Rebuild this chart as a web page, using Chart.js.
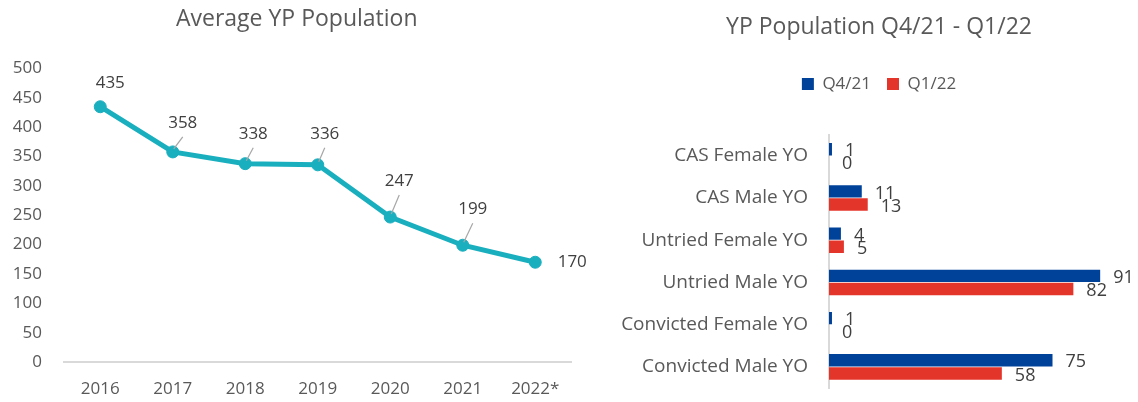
<!DOCTYPE html>
<html>
<head>
<meta charset="utf-8">
<script src="https://cdn.jsdelivr.net/npm/chart.js@4/dist/chart.umd.min.js"></script>
<style>
  html, body { margin: 0; padding: 0; background: #fff; }
  body { width: 1138px; height: 402px; position: relative; overflow: hidden; }
  .box { position: absolute; top: 0; height: 402px; }
  #left { left: 0; width: 594px; }
  #right { left: 600px; width: 538px; }
</style>
</head>
<body>
<div class="box" id="left"><canvas id="lineChart"></canvas></div>
<div class="box" id="right"><canvas id="barChart"></canvas></div>

<script>
// datos
const years = ['2016', '2017', '2018', '2019', '2020', '2021', '2022*'];
const avgPopulation = [435, 358, 338, 336, 247, 199, 170];

const groups = ['CAS Female YO', 'CAS Male YO', 'Untried Female YO', 'Untried Male YO', 'Convicted Female YO', 'Convicted Male YO'];
const q4_21 = [1, 11, 4, 91, 1, 75];
const q1_22 = [0, 13, 5, 82, 0, 58];

const FONT = "'Open Sans', sans-serif";
const GREY = '#595959';
const TEAL = '#1AAFBF';
const BLUE = '#00429A';
const RED = '#E4352B';

Chart.defaults.font.family = FONT;
Chart.defaults.color = GREY;
Chart.defaults.animation = false;

// posiciones de las etiquetas del grafico de lineas (respecto al punto)
const lineLabelOffsets = [[10, -24], [10, -29], [8, -30], [7, -31], [9, -36], [10, -36], [37, 0]];

const lineLabels = {
  id: 'lineLabels',
  afterDatasetsDraw(chart) {
    const ctx = chart.ctx;
    const meta = chart.getDatasetMeta(0);
    ctx.save();
    ctx.font = '17px ' + FONT;
    ctx.fillStyle = '#404040';
    ctx.textAlign = 'center';
    ctx.textBaseline = 'middle';
    meta.data.forEach((pt, i) => {
      const off = lineLabelOffsets[i];
      const lx = pt.x + off[0], ly = pt.y + off[1];
      if (off[1] <= -28) {
        ctx.strokeStyle = '#A6A6A6';
        ctx.lineWidth = 1.2;
        ctx.beginPath();
        ctx.moveTo(pt.x + 1, pt.y - 3);
        ctx.lineTo(lx, ly + 14);
        ctx.stroke();
      }
      ctx.fillText(chart.data.datasets[0].data[i], lx, ly);
    });
    ctx.restore();
  }
};

// mover titulo (y leyenda) un poco a la derecha
function shiftTop(px) {
  return {
    id: 'shiftTop',
    afterLayout(chart) {
      if (chart.titleBlock) chart.titleBlock.left += px;
      if (chart.legend && chart.legend.options.display) chart.legend.left += px;
    }
  };
}

const barLabels = {
  id: 'barLabels',
  afterDatasetsDraw(chart) {
    const ctx = chart.ctx;
    ctx.save();
    ctx.font = '18px ' + FONT;
    ctx.fillStyle = '#404040';
    ctx.textAlign = 'left';
    ctx.textBaseline = 'middle';
    chart.data.datasets.forEach((ds, d) => {
      chart.getDatasetMeta(d).data.forEach((bar, i) => {
        ctx.fillText(ds.data[i], bar.x + 13, bar.y + 2);
      });
    });
    ctx.restore();
  }
};

// espacio extra debajo de la leyenda
const legendGap = {
  id: 'legendGap',
  beforeInit(chart) {
    const fit = chart.legend.fit;
    chart.legend.fit = function () {
      fit.call(this);
      this.height += 32;
    };
  }
};

new Chart(document.getElementById('lineChart'), {
  type: 'line',
  data: {
    labels: years,
    datasets: [{
      data: avgPopulation,
      borderColor: TEAL,
      backgroundColor: TEAL,
      borderWidth: 5,
      pointRadius: 6,
      pointBorderWidth: 1,
      pointHoverRadius: 6,
      tension: 0
    }]
  },
  options: {
    responsive: true,
    maintainAspectRatio: false,
    layout: { padding: { left: 0, right: 22.5, top: 0, bottom: 0 } },
    plugins: {
      legend: { display: false },
      tooltip: { enabled: false },
      title: {
        display: true,
        text: 'Average YP Population',
        color: GREY,
        font: { size: 23, weight: 'normal' },
        padding: { top: 6, bottom: 35 }
      }
    },
    scales: {
      x: {
        offset: true,
        grid: { display: false, drawTicks: false },
        border: { display: true, color: '#D9D9D9', width: 2 },
        ticks: { color: GREY, font: { size: 17 }, padding: 17 },
        afterFit: s => { s.height = 40; }
      },
      y: {
        min: 0, max: 500,
        grid: { display: false, drawTicks: false },
        border: { display: false },
        ticks: { stepSize: 50, color: GREY, font: { size: 17 }, padding: 22 },
        afterFit: s => { s.width = 64; }
      }
    }
  },
  plugins: [lineLabels, shiftTop(22)]
});

new Chart(document.getElementById('barChart'), {
  type: 'bar',
  data: {
    labels: groups,
    datasets: [
      { label: 'Q4/21', data: q4_21, backgroundColor: BLUE },
      { label: 'Q1/22', data: q1_22, backgroundColor: RED }
    ]
  },
  options: {
    indexAxis: 'y',
    responsive: true,
    maintainAspectRatio: false,
    layout: { padding: { left: 0, right: 11, top: 0, bottom: 14 } },
    datasets: { bar: { categoryPercentage: 0.62, barPercentage: 0.95 } },
    plugins: {
      tooltip: { enabled: false },
      title: {
        display: true,
        text: 'YP Population Q4/21 - Q1/22',
        color: GREY,
        font: { size: 23, weight: 'normal' },
        padding: { top: 14, bottom: 18 }
      },
      legend: {
        display: true,
        labels: { color: GREY, font: { size: 17 }, boxWidth: 12, boxHeight: 12, padding: 16 }
      }
    },
    scales: {
      x: { display: false, min: 0, max: 100 },
      y: {
        grid: { display: false, drawTicks: false },
        border: { display: true, color: '#D9D9D9', width: 2 },
        ticks: { color: GREY, font: { size: 19 }, padding: 21 },
        afterFit: s => { s.width = 229; s.paddingTop = 0; s.paddingBottom = 0; }
      }
    }
  },
  plugins: [barLabels, legendGap, shiftTop(31)]
});
</script>
</body>
</html>
